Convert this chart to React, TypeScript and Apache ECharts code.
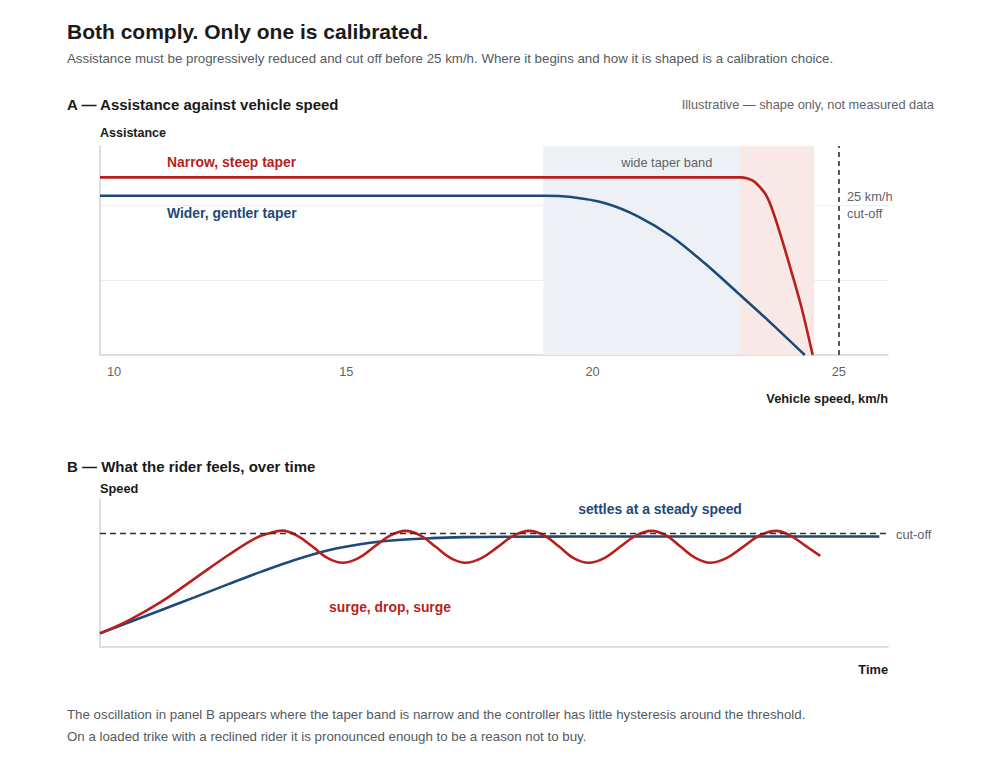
import React, { useEffect, useRef } from "react";
import * as echarts from "echarts";

// Panel A: assistance vs vehicle speed (illustrative shapes)
const narrowSpeed = [10, 23.0, 23.15, 23.29, 23.5, 23.63, 23.83, 24.03, 24.24, 24.47];
const narrowAssist = [1.19, 1.19, 1.182, 1.161, 1.083, 0.993, 0.792, 0.569, 0.323, 0];
const widerSpeed = [10, 19, 19.57, 20.26, 20.93, 21.61, 22.28, 22.96, 23.63, 24.31];
const widerAssist = [1.067, 1.067, 1.058, 1.016, 0.927, 0.792, 0.614, 0.413, 0.212, 0];
const wideBand = [19, 23];
const narrowBand = [23, 24.5];
const cutoffSpeed = 25;
const speedTicks = [10, 15, 20, 25];

// Panel B: rider speed over time
const narrowTime = [
  0, 3.6, 7.8, 12.06, 16.3, 19.7, 21.5, 23.1, 25.0, 27.0, 28.9, 30.8, 32.8, 34.8, 36.8, 38.8,
  40.7, 42.6, 44.5, 46.4, 48.4, 50.5, 52.5, 54.5, 56.4, 58.3, 60.1, 62.0, 64.0, 66.0, 68.0, 70.0,
  71.9, 73.7, 75.6, 77.4, 79.5, 81.6, 83.7, 85.8, 87.6, 89.5, 91.4,
];
const narrowSpeedB = [
  0.12, 0.232, 0.398, 0.603, 0.808, 0.955, 1.0, 1.022, 0.979, 0.88, 0.781, 0.74, 0.781, 0.88, 0.979, 1.02,
  0.979, 0.88, 0.781, 0.74, 0.781, 0.88, 0.979, 1.02, 0.979, 0.88, 0.781, 0.74, 0.781, 0.88, 0.979, 1.02,
  0.979, 0.88, 0.781, 0.74, 0.781, 0.88, 0.979, 1.02, 0.979, 0.89, 0.8,
];
const widerTime = [0, 3.6, 7.8, 12.06, 16.3, 20.5, 24.7, 29.0, 33.2, 37.4, 42.0, 46.0, 52.0, 60.0, 98.9];
const widerSpeedB = [0.12, 0.215, 0.325, 0.438, 0.552, 0.662, 0.764, 0.85, 0.905, 0.937, 0.956, 0.965, 0.969, 0.97, 0.97];
const cutoffLevel = 1.0;

const RED = "#b81f1d";
const BLUE = "#1d4a7a";
const GREY = "#5f6368";
const INK = "#1a1a1a";
const FONT = '"Liberation Sans", Arial, Helvetica, sans-serif';

const zip = (xs: number[], ys: number[]) => xs.map((x, i) => [x, ys[i]]);

export default function App() {
  const ref = useRef<HTMLDivElement>(null);
  useEffect(() => {
    if (!ref.current) return;
    const chart = echarts.init(ref.current, undefined, { renderer: "svg" });
    const txt = (text: string, x: number, y: number, font: string, fill: string, align = "left") => ({
      type: "text",
      x,
      y,
      silent: true,
      style: { text, font: `${font} ${FONT}`, fill, textAlign: align, textVerticalAlign: "middle" },
    });
    chart.setOption({
      animation: false,
      backgroundColor: "#ffffff",
      grid: [
        { left: 100, top: 146, width: 788, height: 209 },
        { left: 100, top: 499, width: 788, height: 148 },
      ],
      xAxis: [
        {
          gridIndex: 0,
          type: "value",
          min: 10,
          max: 26,
          interval: 5,
          axisLine: { show: true, lineStyle: { color: "#cfd6dd", width: 1.5 } },
          axisTick: { show: false },
          splitLine: { show: false },
          axisLabel: {
            color: GREY,
            fontSize: 12.8,
            fontFamily: FONT,
            margin: 10,
            showMaxLabel: false,
            formatter: (v: number) => (speedTicks.includes(v) ? (v === speedTicks[0] ? `{first|${v}}` : `${v}`) : ""),
            rich: { first: { padding: [0, 0, 0, 28], color: GREY, fontSize: 12.8, fontFamily: FONT } },
          },
        },
        {
          gridIndex: 1,
          type: "value",
          min: 0,
          max: 100,
          axisLine: { show: true, lineStyle: { color: "#cfd6dd", width: 1.5 } },
          axisTick: { show: false },
          axisLabel: { show: false },
          splitLine: { show: false },
        },
      ],
      yAxis: [
        {
          gridIndex: 0,
          type: "value",
          min: 0,
          max: 1.4,
          interval: 0.5,
          axisLine: { show: true, lineStyle: { color: "#cfd6dd", width: 1.5 } },
          axisTick: { show: false },
          axisLabel: { show: false },
          splitLine: { show: true, showMinLine: false, showMaxLine: false, lineStyle: { color: "#eceef1", width: 1 } },
        },
        {
          gridIndex: 1,
          type: "value",
          min: 0,
          max: 1.3,
          axisLine: { show: true, lineStyle: { color: "#cfd6dd", width: 1.5 } },
          axisTick: { show: false },
          axisLabel: { show: false },
          splitLine: { show: false },
        },
      ],
      series: [
        {
          type: "line",
          name: "bands",
          xAxisIndex: 0,
          yAxisIndex: 0,
          data: [],
          markArea: {
            silent: true,
            data: [
              [
                {
                  xAxis: wideBand[0],
                  itemStyle: { color: "#edf1f6" },
                  label: {
                    show: true,
                    position: "insideTop",
                    distance: 10,
                    offset: [25, 0],
                    formatter: "wide taper band",
                    color: GREY,
                    fontSize: 12.8,
                    fontFamily: FONT,
                  },
                },
                { xAxis: wideBand[1] },
              ],
              [{ xAxis: narrowBand[0], itemStyle: { color: "#f8e8e6" }, label: { show: false } }, { xAxis: narrowBand[1] }],
            ],
          },
          markLine: {
            silent: true,
            symbol: "none",
            label: { show: false },
            lineStyle: { color: "#222", type: [5, 4], width: 1.5 },
            data: [{ xAxis: cutoffSpeed }],
          },
        },
        {
          type: "line",
          name: "Wider, gentler taper",
          xAxisIndex: 0,
          yAxisIndex: 0,
          data: zip(widerSpeed, widerAssist),
          smooth: 0.3,
          showSymbol: false,
          lineStyle: { color: BLUE, width: 2.6 },
          z: 3,
        },
        {
          type: "line",
          name: "Narrow, steep taper",
          xAxisIndex: 0,
          yAxisIndex: 0,
          data: zip(narrowSpeed, narrowAssist),
          smooth: 0.3,
          showSymbol: false,
          lineStyle: { color: RED, width: 2.6 },
          z: 4,
        },
        {
          type: "line",
          name: "cutoffB",
          xAxisIndex: 1,
          yAxisIndex: 1,
          data: [],
          markLine: {
            silent: true,
            symbol: "none",
            label: { show: false },
            lineStyle: { color: "#333", type: [6, 4], width: 1.3 },
            data: [{ yAxis: cutoffLevel }],
          },
        },
        {
          type: "line",
          name: "Wider B",
          xAxisIndex: 1,
          yAxisIndex: 1,
          data: zip(widerTime, widerSpeedB),
          smooth: 0.35,
          showSymbol: false,
          lineStyle: { color: BLUE, width: 2.6 },
          z: 3,
        },
        {
          type: "line",
          name: "Narrow B",
          xAxisIndex: 1,
          yAxisIndex: 1,
          data: zip(narrowTime, narrowSpeedB),
          smooth: 0.4,
          showSymbol: false,
          lineStyle: { color: RED, width: 2.6 },
          z: 4,
        },
      ],
      graphic: [
        txt("Both comply. Only one is calibrated.", 67, 31, "bold 21px", INK),
        txt(
          "Assistance must be progressively reduced and cut off before 25 km/h. Where it begins and how it is shaped is a calibration choice.",
          67,
          58,
          "13.3px",
          "#555a60"
        ),
        txt("A — Assistance against vehicle speed", 67, 104, "bold 15px", INK),
        txt("Illustrative — shape only, not measured data", 934, 104, "12.8px", GREY, "right"),
        txt("Assistance", 100, 133, "bold 12.5px", INK),
        txt("Narrow, steep taper", 167, 162, "bold 13.9px", RED),
        txt("Wider, gentler taper", 167, 213, "bold 13.9px", BLUE),
        txt("25 km/h", 847, 196, "12.8px", GREY),
        txt("cut-off", 847, 213, "12.8px", GREY),
        txt("Vehicle speed, km/h", 888, 398, "bold 12.8px", INK, "right"),
        txt("B — What the rider feels, over time", 67, 466, "bold 15px", INK),
        txt("Speed", 100, 488, "bold 12.8px", INK),
        txt("settles at a steady speed", 660, 509, "bold 13.9px", BLUE, "center"),
        txt("surge, drop, surge", 390, 607, "bold 13.9px", RED, "center"),
        txt("cut-off", 896, 534, "12.8px", GREY),
        txt("Time", 888, 669, "bold 12.8px", INK, "right"),
        txt(
          "The oscillation in panel B appears where the taper band is narrow and the controller has little hysteresis around the threshold.",
          67,
          714,
          "13.3px",
          "#555a60"
        ),
        txt(
          "On a loaded trike with a reclined rider it is pronounced enough to be a reason not to buy.",
          67,
          736,
          "13.3px",
          "#555a60"
        ),
      ],
    });
    return () => chart.dispose();
  }, []);
  return (
    <div
      ref={ref}
      style={{ position: "absolute", left: 0, top: 0, width: 1000, height: 767, background: "#fff" }}
    />
  );
}
